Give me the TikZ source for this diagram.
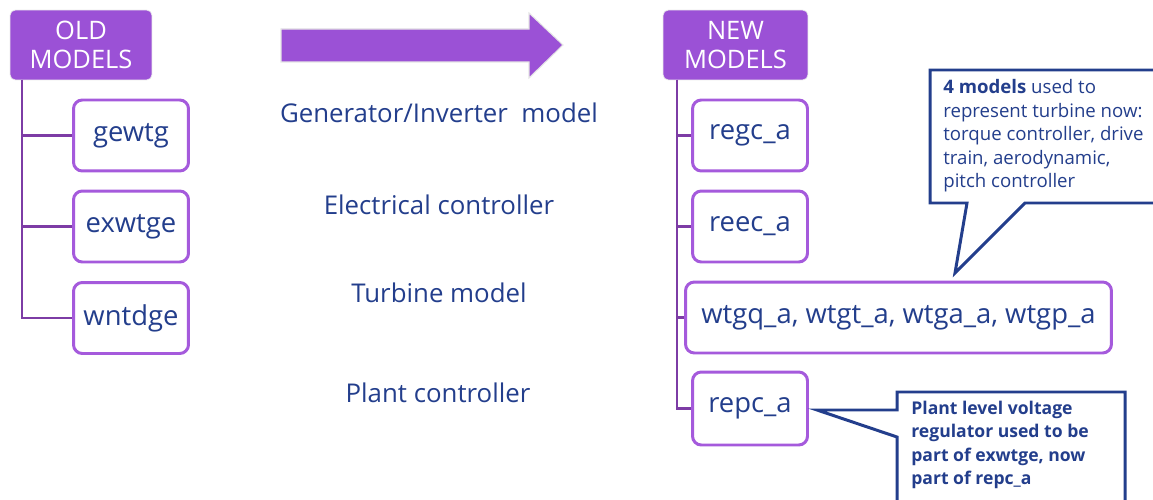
\documentclass[tikz,border=0pt]{standalone}
\usepackage{fontspec}
\setmainfont{Open Sans}
\definecolor{violeta}{RGB}{155,81,214}
\definecolor{tronco}{RGB}{125,60,165}
\definecolor{borde}{RGB}{165,90,220}
\definecolor{azul}{RGB}{35,62,140}
\begin{document}
\begin{tikzpicture}[x=0.02cm, y=-0.02cm,
  cabecera/.style={fill=violeta, draw=gray!15, rounded corners=3pt, minimum height=1.4cm, text=white, align=center, inner sep=0pt, font=\fontsize{14.5}{16.5}\selectfont},
  modelo/.style={draw=borde, line width=1.7pt, fill=white, rounded corners=5pt, minimum height=1.42cm, text=azul, inner sep=0pt, font=\fontsize{15.6}{18}\selectfont},
  rama/.style={draw=tronco, line width=1.6pt},
  etiqueta/.style={text=azul, font=\fontsize{14.7}{17}\selectfont},
  nota/.style={text=azul, align=left, anchor=north west, inner sep=0pt, font=\fontsize{10.6}{13.4}\selectfont},
  globo/.style={draw=azul, line width=1.7pt, fill=white, line join=miter}]
\useasboundingbox (0,0) rectangle (1153,500);
\clip (0,0) rectangle (1153,500);
% Modelos antiguos
\node[cabecera, minimum width=2.84cm] (viejos) at (81,45) {OLD\\MODELS};
\node[modelo, minimum width=2.3cm] (gewtg) at (131,135.5) {gewtg};
\node[modelo, minimum width=2.3cm] (exwtge) at (131,226.5) {exwtge};
\node[modelo, minimum width=2.3cm] (wntdge) at (131,318) {wntdge};
\coordinate (troncoviejo) at (22,80);
\foreach \m in {gewtg,exwtge,wntdge}
  \draw[rama] (troncoviejo) |- (\m.west);
% Flecha
\fill[violeta, draw=gray!20, line width=0.6pt] (281,29) -- (529,29) -- (529,13) -- (563,45) -- (529,78) -- (529,62) -- (281,62) -- cycle;
% Etiquetas centrales
\node[etiqueta] (gen) at (439,113) {Generator/Inverter\ \ model};
\node[etiqueta] (elec) at (439,205) {Electrical controller};
\node[etiqueta] (turb) at (439,293) {Turbine model};
\node[etiqueta] (planta) at (438,393) {Plant controller};
% Modelos nuevos
\node[cabecera, minimum width=2.9cm] (nuevos) at (735.5,45) {NEW\\MODELS};
\node[modelo, minimum width=2.3cm] (regc) at (750,135.5) {regc\_a};
\node[modelo, minimum width=2.3cm] (reec) at (750,226.5) {reec\_a};
\node[modelo, minimum width=8.52cm] (wtg) at (898.5,317.5) {wtgq\_a, wtgt\_a, wtga\_a, wtgp\_a};
\node[modelo, minimum width=2.3cm, minimum height=1.46cm] (repc) at (750,408.5) {repc\_a};
\coordinate (tronconuevo) at (677,80);
\foreach \m in {regc,reec,wtg,repc}
  \draw[rama] (tronconuevo) |- (\m.west);
% Globo 1
\draw[globo] (930,70) -- (1165,70) -- (1165,203) -- (1025,203) -- (955,273) -- (967,203) -- (930,203) -- cycle;
\node[nota] (nota1) at (943,79) {\textbf{4 models} used to\\represent turbine now:\\torque controller, drive\\train, aerodynamic,\\pitch controller};
% Globo 2
\draw[globo] (897,392) -- (1125,392) -- (1125,515) -- (897,515) -- (897,437) -- (817,410) -- (897,410) -- cycle;
\node[nota, font=\bfseries\fontsize{10}{13.2}\selectfont] (nota2) at (911,401) {Plant level voltage\\regulator used to be\\part of exwtge, now\\part of repc\_a};
\end{tikzpicture}
\end{document}
